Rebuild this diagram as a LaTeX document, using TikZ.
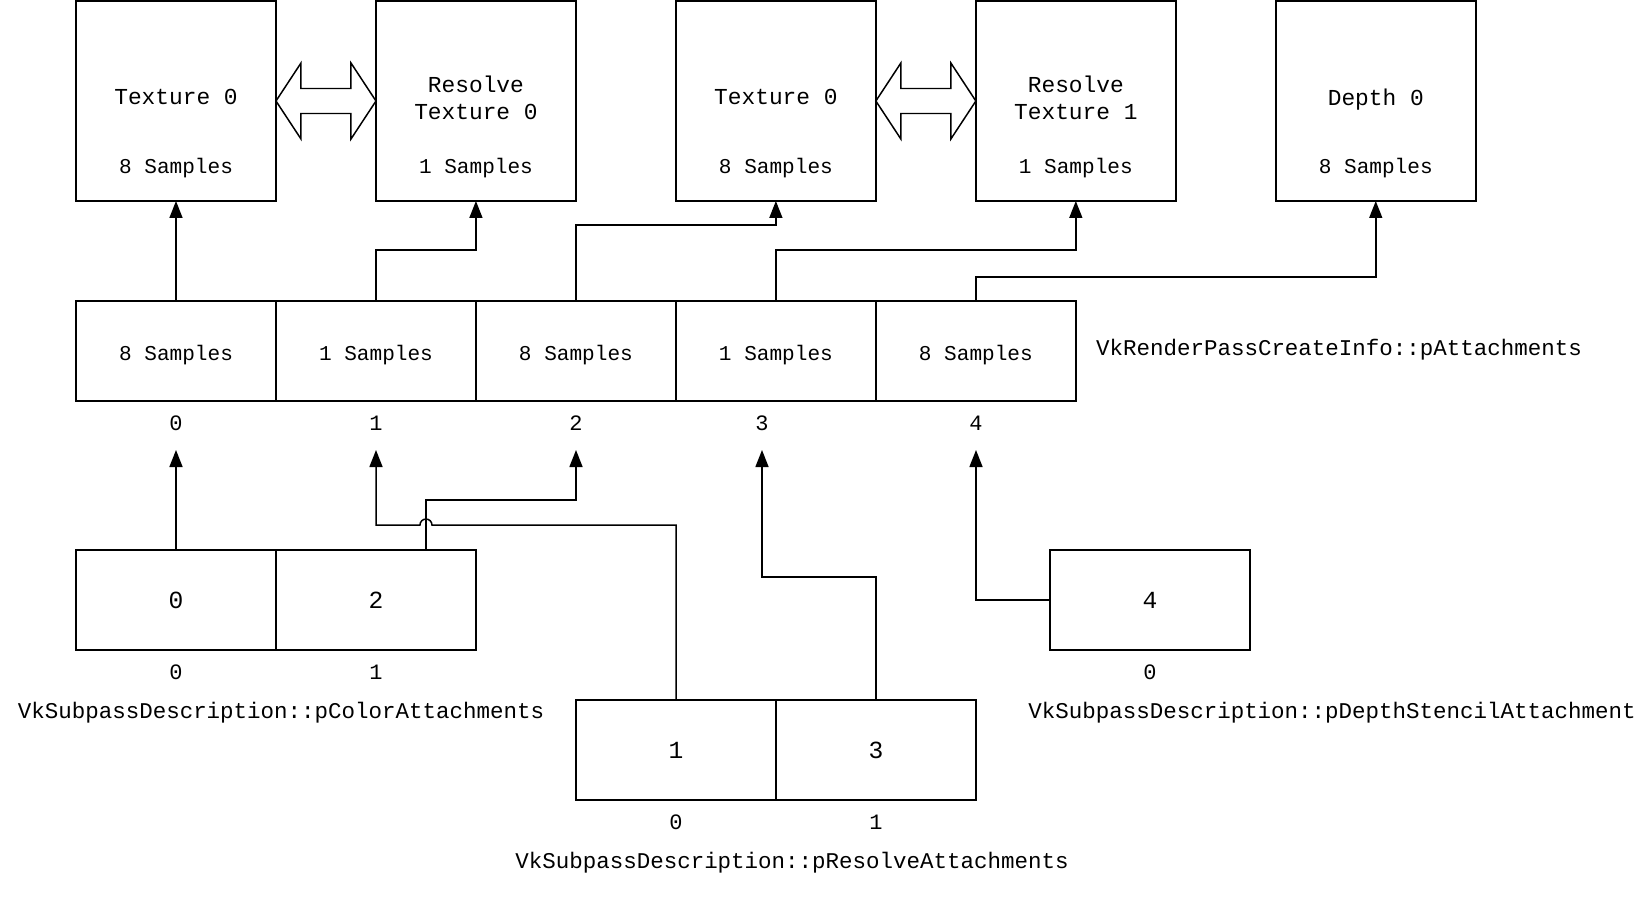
\documentclass[tikz,border=0pt]{standalone}
\usepackage{fontspec}
\setmonofont{Liberation Mono}
\usepackage{tikz}
\usetikzlibrary{shapes,arrows,arrows.meta,positioning,calc}

\tikzset{
    box/.style={draw, line width=0.85pt, minimum width=4cm, minimum height=4cm, inner sep=0pt, outer sep=0pt},
    cell/.style={draw, line width=0.85pt, minimum width=4cm, minimum height=2cm, inner sep=0pt, outer sep=0pt,
        text depth=0pt, text height=0.38cm, font=\ttfamily\fontsize{12}{14}\selectfont},
    bigcell/.style={draw, line width=0.85pt, minimum width=4cm, minimum height=2cm, inner sep=0pt, outer sep=0pt,
        text depth=0pt, font=\ttfamily\fontsize{14}{16}\selectfont},
    boxtitle/.style={font=\ttfamily\fontsize{13}{15.6}\selectfont, align=center, inner sep=0pt, text depth=0pt},
    samp/.style={font=\ttfamily\fontsize{12}{14}\selectfont, inner sep=0pt, text depth=0pt},
    idx/.style={font=\ttfamily\fontsize{12.5}{14}\selectfont, inner sep=0pt},
    lbl/.style={font=\ttfamily\fontsize{12.8}{15}\selectfont, inner sep=0pt},
    link/.style={line width=0.85pt, -{Triangle[length=0.34cm,width=0.26cm]}}
}

% hollow two way arrow between two texture boxes
\newcommand\swaparrow[1]{
    \draw[line width=0.85pt] (#1) -- ++(25,-38) -- ++(0,25.5) -- ++(50,0) -- ++(0,-25.5)
        -- ++(25,38) -- ++(-25,38) -- ++(0,-25.5) -- ++(-50,0) -- ++(0,25.5) -- cycle;
}

\begin{document}
\begin{tikzpicture}[x=0.02cm,y=-0.02cm]
    \useasboundingbox (0,0) rectangle (1650,903);

    % textures
    \node[box] (tex0) at (176,101) {};
    \node[box, right=2cm of tex0] (res0) {};
    \node[box, right=2cm of res0] (tex1) {};
    \node[box, right=2cm of tex1] (res1) {};
    \node[box, right=2cm of res1] (dep0) {};

    \node[boxtitle] (tex0name) at ($(tex0)+(0,-4)$) {Texture 0};
    \node[boxtitle] (res0name) at ($(res0)+(0,-3)$) {Resolve\\Texture 0};
    \node[boxtitle] (tex1name) at ($(tex1)+(0,-4)$) {Texture 0};
    \node[boxtitle] (res1name) at ($(res1)+(0,-3)$) {Resolve\\Texture 1};
    \node[boxtitle] (dep0name) at ($(dep0)+(0,-4)$) {Depth 0};

    \node[samp] (tex0samp) at ($(tex0)+(0,65)$) {8 Samples};
    \node[samp] (res0samp) at ($(res0)+(0,65)$) {1 Samples};
    \node[samp] (tex1samp) at ($(tex1)+(0,65)$) {8 Samples};
    \node[samp] (res1samp) at ($(res1)+(0,65)$) {1 Samples};
    \node[samp] (dep0samp) at ($(dep0)+(0,65)$) {8 Samples};

    \swaparrow{tex0.east}
    \swaparrow{tex1.east}

    % pAttachments
    \node[cell] (att0) at (176,351) {8 Samples};
    \node[cell, right=0pt of att0] (att1) {1 Samples};
    \node[cell, right=0pt of att1] (att2) {8 Samples};
    \node[cell, right=0pt of att2] (att3) {1 Samples};
    \node[cell, right=0pt of att3] (att4) {8 Samples};

    \node[idx] (n0) at (176,423) {0};
    \node[idx] (n1) at (376,423) {1};
    \node[idx] (n2) at (576,423) {2};
    \node[idx] (n3) at (762,423) {3};
    \node[idx] (n4) at (976,423) {4};

    \node[lbl] (attlbl) at (1339,350) {VkRenderPassCreateInfo::pAttachments};

    \coordinate (p0) at (176,450);
    \coordinate (p1) at (376,450);
    \coordinate (p2) at (576,450);
    \coordinate (p3) at (762,450);
    \coordinate (p4) at (976,450);

    % subpass references
    \node[bigcell] (col0) at (176,600) {0};
    \node[bigcell, right=0pt of col0] (col1) {2};
    \node[idx] (c0) at (176,672) {0};
    \node[idx] (c1) at (376,672) {1};
    \node[lbl] (collbl) at (281,713) {VkSubpassDescription::pColorAttachments};

    \node[bigcell] (rsv0) at (676,750) {1};
    \node[bigcell, right=0pt of rsv0] (rsv1) {3};
    \node[idx] (r0) at (676,822) {0};
    \node[idx] (r1) at (876,822) {1};
    \node[lbl] (rsvlbl) at (792,863) {VkSubpassDescription::pResolveAttachments};

    \node[bigcell] (dsa0) at (1150,600) {4};
    \node[idx] (d0) at (1150,672) {0};
    \node[lbl] (dsalbl) at (1332,713) {VkSubpassDescription::pDepthStencilAttachment};

    % connectors
    \draw[link] (att0.north) -- (tex0.south);
    \draw[link] (att1.north) -- ++(0,-51) -| (res0.south);
    \draw[link] (att2.north) -- ++(0,-76) -| (tex1.south);
    \draw[link] (att3.north) -- ++(0,-51) -| (res1.south);
    \draw[link] (att4.north) -- ++(0,-24) -| (dep0.south);

    \coordinate (hop) at ($(col1.north)+(50,-25)$);
    \draw[link] (col0.north) -- (p0);
    \draw[link] ($(col1.north)+(50,0)$) -- ++(0,-50) -| (p2);
    \draw[link] (rsv0.north) |- ($(hop)+(6,0)$) arc[start angle=0, end angle=-180, radius=6] -| (p1);
    \draw[link] (rsv1.north) -- ++(0,-123) -| (p3);
    \draw[link] (dsa0.west) -| (p4);
\end{tikzpicture}
\end{document}
